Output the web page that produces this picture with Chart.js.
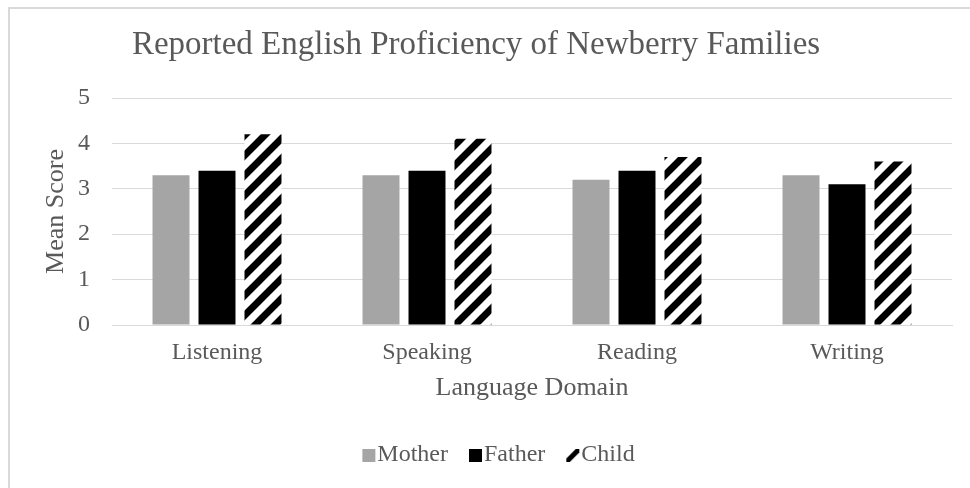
<!DOCTYPE html>
<html>
<head>
<meta charset="utf-8">
<script src="https://cdn.jsdelivr.net/npm/chart.js@4.4.1/dist/chart.umd.min.js"></script>
<style>
  html, body { margin: 0; padding: 0; background: #fff; }
  #wrap { position: relative; width: 970px; height: 488px; }
</style>
</head>
<body>
<div id="wrap"><canvas id="chart" width="970" height="488"></canvas></div>
<script>
// values
const categories = ['Listening', 'Speaking', 'Reading', 'Writing'];
const seriesNames = ['Mother', 'Father', 'Child'];
const motherScores = [3.3, 3.3, 3.2, 3.3];
const fatherScores = [3.4, 3.4, 3.4, 3.1];
const childScores = [4.2, 4.1, 3.7, 3.6];
const yTicks = [0, 1, 2, 3, 4, 5];

const serif = "'Liberation Serif', 'Times New Roman', serif";
const textGray = '#595959';
const gridGray = '#d9d9d9';

const canvas = document.getElementById('chart');
const ctx = canvas.getContext('2d');

// wide upward diagonal hatch, black on white
function hatch(){
  const s = 20;
  const c = document.createElement('canvas');
  c.width = s; c.height = s;
  const g = c.getContext('2d');
  g.fillStyle = '#fff';
  g.fillRect(0, 0, s, s);
  g.strokeStyle = '#000';
  g.lineWidth = 7;
  g.beginPath();
  g.moveTo(-s / 2, s / 2); g.lineTo(s / 2, -s / 2);
  g.moveTo(0, s); g.lineTo(s, 0);
  g.moveTo(s / 2, s * 1.5); g.lineTo(s * 1.5, s / 2);
  g.stroke();
  return ctx.createPattern(c, 'repeat');
}

// legend swatch: 13px box on the right side of a wider transparent image,
// so the text sits close to it like in the original
function swatch(fill, striped){
  const c = document.createElement('canvas');
  c.width = 26; c.height = 14;
  const g = c.getContext('2d');
  if (striped){
    g.save();
    g.beginPath(); g.rect(11, 1, 13, 13); g.clip();
    g.strokeStyle = '#000';
    g.lineWidth = 5;
    g.beginPath(); g.moveTo(10, 15); g.lineTo(25, 0); g.stroke();
    g.restore();
  } else {
    g.fillStyle = fill;
    g.fillRect(11, 1, 13, 13);
  }
  return c;
}
const swatches = [swatch('#a5a5a5'), swatch('#000000'), swatch(null, true)];

const frame = {
  id: 'frame',
  afterLayout(chart){
    // legend sits a little right of centre in the original
    chart.legend.left += 23;
    chart.legend.right += 23;
  },
  beforeDraw(chart){
    const c = chart.ctx;
    c.save();
    c.fillStyle = '#fff';
    c.fillRect(0, 0, chart.width, chart.height);
    c.strokeStyle = gridGray;
    c.lineWidth = 2;
    c.strokeRect(9, 8, 1200, 1200);
    c.restore();
  }
};

new Chart(canvas, {
  type: 'bar',
  data: {
    labels: categories,
    datasets: [
      { label: seriesNames[0], data: motherScores, backgroundColor: '#a5a5a5' },
      { label: seriesNames[1], data: fatherScores, backgroundColor: '#000000' },
      { label: seriesNames[2], data: childScores, backgroundColor: hatch() }
    ]
  },
  options: {
    responsive: false,
    animation: false,
    categoryPercentage: 0.657,
    barPercentage: 0.804,
    layout: { padding: { left: 0, right: 18, top: 0, bottom: 11 } },
    plugins: {
      title: {
        display: true,
        text: 'Reported English Proficiency of Newberry Families',
        color: textGray,
        font: { family: serif, size: 33, weight: 'normal' },
        padding: { top: 26, bottom: 32.4 }
      },
      legend: {
        position: 'bottom',
        labels: {
          color: textGray,
          font: { family: serif, size: 24 },
          usePointStyle: true,
          pointStyleWidth: 2,
          boxHeight: 13,
          padding: 22,
          generateLabels(chart){
            const items = Chart.defaults.plugins.legend.labels.generateLabels(chart);
            items.forEach((it, i) => { it.pointStyle = swatches[i]; });
            return items;
          }
        }
      },
      tooltip: { enabled: false }
    },
    scales: {
      x: {
        afterFit(scale){ scale.height = 96; },
        grid: { display: false, drawTicks: false },
        border: { color: gridGray },
        ticks: { color: textGray, font: { family: serif, size: 24 }, padding: 13.5 },
        title: {
          display: true,
          text: 'Language Domain',
          color: textGray,
          font: { family: serif, size: 26 },
          padding: { top: 0, bottom: 17 }
        }
      },
      y: {
        min: 0,
        max: 5,
        afterFit(scale){ scale.width = 112; },
        afterBuildTicks(scale){ scale.ticks = yTicks.map(v => ({ value: v })); },
        grid: { color: gridGray, drawTicks: false },
        border: { display: false },
        ticks: { color: textGray, font: { family: serif, size: 24 }, padding: 22 },
        title: {
          display: true,
          text: 'Mean Score',
          color: textGray,
          font: { family: serif, size: 26 },
          padding: { top: 41, bottom: 0 }
        }
      }
    }
  },
  plugins: [frame]
});
</script>
</body>
</html>
